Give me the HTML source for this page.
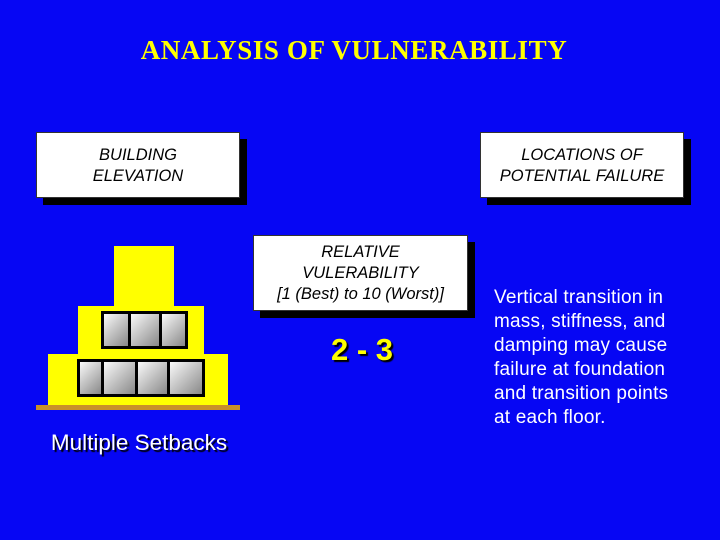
<!DOCTYPE html>
<html><head><style>
body{margin:0;width:720px;height:540px;background:#0606f4;position:relative;overflow:hidden;font-family:"Liberation Sans",Arial,sans-serif}
.a{position:absolute}
.box{position:absolute;background:#fff;border:1px solid #333;box-shadow:7px 7px 0 #000;text-align:center;font-style:italic;color:#000;font-size:16.5px;line-height:21px;box-sizing:border-box}
.win{position:absolute;background:linear-gradient(135deg,#fafafa,#888);border:3px solid #000;box-sizing:border-box}
</style></head><body>
<div class="a" style="left:0;width:708px;top:35px;text-align:center;font-family:'Liberation Serif',serif;font-weight:bold;font-size:27px;color:#ffff00;letter-spacing:0.6px">ANALYSIS OF VULNERABILITY</div>
<div class="box" style="left:36px;top:132px;width:204px;height:66px;padding-top:12px">BUILDING<br>ELEVATION</div>
<div class="box" style="left:480px;top:132px;width:204px;height:66px;padding-top:12px">LOCATIONS OF<br>POTENTIAL FAILURE</div>
<div class="box" style="left:253px;top:235px;width:215px;height:76px;padding-top:6px">RELATIVE<br>VULERABILITY<br>[1 (Best) to 10 (Worst)]</div>
<div class="a" style="left:114px;top:246px;width:60px;height:62px;background:#ffff00"></div>
<div class="a" style="left:78px;top:306px;width:126px;height:50px;background:#ffff00"></div>
<div class="a" style="left:48px;top:354px;width:180px;height:52px;background:#ffff00"></div>
<div class="a" style="left:36px;top:405px;width:204px;height:5px;background:#c8902a"></div>
<div class="a" style="left:101px;top:311px;width:87px;height:38px;background:#000"></div>
<div class="win" style="left:101px;top:311px;width:30px;height:38px"></div>
<div class="win" style="left:128px;top:311px;width:34px;height:38px"></div>
<div class="win" style="left:159px;top:311px;width:29px;height:38px"></div>
<div class="win" style="left:77px;top:359px;width:27px;height:38px"></div>
<div class="win" style="left:101px;top:359px;width:37px;height:38px"></div>
<div class="win" style="left:135px;top:359px;width:35px;height:38px"></div>
<div class="win" style="left:167px;top:359px;width:38px;height:38px"></div>
<div class="a" style="left:20px;width:238px;top:430px;text-align:center;color:#fff;font-size:22.5px;text-shadow:2px 2px 1px #000">Multiple Setbacks</div>
<div class="a" style="left:290px;width:144px;top:332px;text-align:center;color:#ffff00;font-size:31px;font-weight:bold;text-shadow:2px 2px 1px #000">2 - 3</div>
<div class="a" style="left:494px;top:286px;color:#fff;font-size:19px;line-height:24px;letter-spacing:0.2px">Vertical transition in<br>mass, stiffness, and<br>damping may cause<br>failure at foundation<br>and transition points<br>at each floor.</div>
</body></html>
